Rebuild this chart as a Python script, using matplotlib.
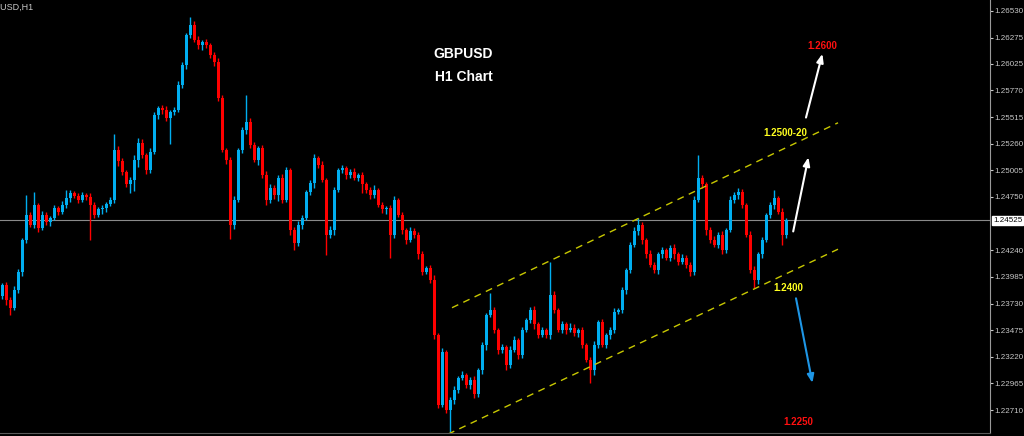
import matplotlib.pyplot as plt
import matplotlib.transforms as mtransforms

# ------------------------- Data ------------------------- #
symbol = "GBPUSD,H1"
first_open = 1.2380

closes = [
    1.2391, 1.2376, 1.2369, 1.2386, 1.2403, 1.2434, 1.2458, 1.2448, 1.2467, 1.2445,
    1.2458, 1.2451, 1.2455, 1.2464, 1.2461, 1.2467, 1.2474, 1.2479, 1.2476, 1.2472,
    1.2477, 1.2475, 1.2467, 1.2458, 1.2463, 1.2464, 1.2468, 1.2472, 1.2520, 1.2509,
    1.2499, 1.2487, 1.2491, 1.2510, 1.2527, 1.2515, 1.2501, 1.2518, 1.2553, 1.2560,
    1.2558, 1.2551, 1.2556, 1.2558, 1.2582, 1.2601, 1.2630, 1.2640, 1.2625, 1.2620,
    1.2623, 1.2620, 1.2611, 1.2604, 1.2570, 1.2520, 1.2510, 1.2448, 1.2472, 1.2520,
    1.2539, 1.2547, 1.2525, 1.2510, 1.2522, 1.2496, 1.2472, 1.2484, 1.2477, 1.2493,
    1.2472, 1.2501, 1.2443, 1.2431, 1.2448, 1.2455, 1.2480, 1.2488, 1.2512, 1.2506,
    1.2491, 1.2439, 1.2443, 1.2482, 1.2501, 1.2503, 1.2496, 1.2499, 1.2493, 1.2496,
    1.2487, 1.2482, 1.2477, 1.2482, 1.2467, 1.2463, 1.2464, 1.2439, 1.2472, 1.2458,
    1.2443, 1.2434, 1.2442, 1.2439, 1.2420, 1.2403, 1.2407, 1.2396, 1.2343, 1.2276,
    1.2327, 1.2271, 1.2281, 1.2290, 1.2302, 1.2305, 1.2295, 1.2300, 1.2286, 1.2309,
    1.2333, 1.2362, 1.2367, 1.2348, 1.2329, 1.2331, 1.2314, 1.2329, 1.2338, 1.2324,
    1.2348, 1.2357, 1.2367, 1.2353, 1.2343, 1.2348, 1.2343, 1.2381, 1.2367, 1.2348,
    1.2353, 1.2348, 1.2350, 1.2345, 1.2348, 1.2333, 1.2319, 1.2309, 1.2333, 1.2355,
    1.2333, 1.2343, 1.2348, 1.2365, 1.2367, 1.2386, 1.2405, 1.2429, 1.2442, 1.2448,
    1.2434, 1.2420, 1.2410, 1.2405, 1.2420, 1.2424, 1.2417, 1.2426, 1.2420, 1.2413,
    1.2417, 1.2410, 1.2403, 1.2472, 1.2493, 1.2487, 1.2443, 1.2434, 1.2429, 1.2439,
    1.2424, 1.2443, 1.2472, 1.2477, 1.2480, 1.2467, 1.2439, 1.2405, 1.2396, 1.2420,
    1.2434, 1.2458, 1.2467, 1.2474, 1.2461, 1.2439, 1.24525,
]

# wick lengths above / below the body, in pips
wick_up = [
    2, 3, 3, 4, 3, 2, 19, 3, 13, 2, 4, 3, 2, 3, 2, 4, 8, 3, 2, 3,
    3, 2, 4, 3, 2, 3, 2, 3, 15, 4, 3, 2, 3, 5, 4, 3, 2, 4, 3, 2,
    3, 4, 2, 3, 4, 3, 2, 7, 3, 4, 2, 3, 2, 3, 4, 3, 2, 3, 4, 2,
    3, 26, 4, 3, 2, 3, 4, 3, 2, 3, 4, 3, 2, 3, 4, 3, 2, 3, 4, 2,
    3, 2, 4, 3, 2, 3, 2, 3, 4, 2, 3, 2, 3, 4, 2, 3, 2, 3, 4, 2,
    3, 2, 4, 3, 2, 3, 2, 3, 4, 2, 3, 2, 3, 4, 2, 3, 2, 3, 4, 2,
    3, 2, 16, 3, 2, 3, 2, 3, 4, 2, 3, 2, 3, 4, 2, 3, 2, 32, 4, 2,
    3, 2, 4, 3, 2, 3, 2, 3, 4, 2, 3, 2, 3, 4, 2, 3, 2, 3, 4, 7,
    3, 2, 4, 3, 2, 3, 2, 3, 4, 2, 3, 2, 3, 4, 22, 3, 2, 3, 4, 2,
    3, 2, 4, 3, 4, 3, 2, 3, 4, 2, 3, 2, 3, 8, 2, 3, 2,
]
wick_dn = [
    3, 4, 7, 2, 3, 4, 3, 2, 3, 4, 2, 3, 4, 2, 3, 2, 3, 4, 2, 3,
    2, 3, 33, 3, 2, 4, 3, 2, 3, 4, 3, 2, 8, 10, 6, 3, 4, 3, 2, 3,
    4, 3, 25, 3, 2, 3, 4, 3, 2, 3, 4, 2, 3, 4, 3, 2, 3, 13, 4, 2,
    3, 4, 3, 2, 4, 3, 5, 3, 4, 6, 3, 2, 4, 7, 3, 4, 2, 3, 4, 3,
    2, 20, 3, 4, 2, 3, 4, 3, 2, 3, 8, 3, 4, 3, 2, 3, 4, 22, 3, 2,
    3, 4, 2, 3, 4, 3, 2, 3, 4, 3, 2, 3, 21, 4, 3, 2, 3, 4, 3, 2,
    3, 4, 2, 3, 4, 3, 5, 3, 2, 4, 3, 2, 3, 4, 3, 2, 3, 4, 3, 2,
    3, 4, 2, 3, 4, 3, 2, 12, 4, 3, 2, 3, 4, 3, 2, 3, 4, 3, 2, 3,
    4, 3, 2, 3, 4, 3, 2, 3, 4, 3, 2, 3, 4, 3, 2, 3, 4, 3, 2, 3,
    4, 3, 2, 3, 4, 3, 2, 3, 8, 4, 3, 2, 3, 4, 2, 10, 3,
]

price_ticks = [1.26530, 1.26275, 1.26025, 1.25770, 1.25515, 1.25260, 1.25005,
               1.24750, 1.24240, 1.23985, 1.23730, 1.23475, 1.23220,
               1.22965, 1.22710]

# channel: (bar index, price) pairs
channel_upper = [(112.5, 1.2369), (209.0, 1.2546)]
channel_lower = [(111.5, 1.2248), (209.0, 1.2425)]

levels = ["1.2600", "1.2500-20", "1.2400", "1.2250"]

# ------------------------- Candles ------------------------- #
PIP = 0.0001
BULL = "#00aef0"
BEAR = "#ff0000"

opens = [first_open] + closes[:-1]
highs = [max(o, c) + u * PIP for o, c, u in zip(opens, closes, wick_up)]
lows = [min(o, c) - d * PIP for o, c, d in zip(opens, closes, wick_dn)]
colors = [BULL if c >= o else BEAR for o, c in zip(opens, closes)]
xs = list(range(len(closes)))

fig = plt.figure(figsize=(10.24, 4.36), dpi=100, facecolor="black")
ax = fig.add_axes([0, 3 / 436, 990 / 1024, 433 / 436], facecolor="black")

ax.vlines(xs, lows, highs, colors=colors, lw=1, zorder=3)
body_h = [max(abs(c - o), 0.00004) for o, c in zip(opens, closes)]
body_b = [min(o, c) for o, c in zip(opens, closes)]
ax.bar(xs, body_h, bottom=body_b, width=0.75, color=colors, lw=0, zorder=4)

# current price line
last = closes[-1]
ax.axhline(last, color="#8a8a8a", lw=0.8, zorder=2)

# channel lines
for line in (channel_upper, channel_lower):
    ax.plot([p[0] for p in line], [p[1] for p in line], color="#c8c800",
            lw=1, dashes=(5, 4), zorder=5)

# ------------------------- Annotations ------------------------- #
ax.text(115.3, 1.2612, "GBPUSD", color="white", fontsize=10, fontweight="bold",
        family="Liberation Sans", ha="center", va="center")
ax.text(115.5, 1.2590, "H1 Chart", color="white", fontsize=10, fontweight="bold",
        family="Liberation Sans", ha="center", va="center")

lab_kw = dict(fontsize=7, fontweight="bold", family="Liberation Sans",
              ha="center", va="center", zorder=6)
ax.text(205.0, 1.26195, levels[0], color="#ff1010", **lab_kw)
ax.text(195.8, 1.25362, levels[1], color="#ffff20", **lab_kw)
ax.text(196.5, 1.23879, levels[2], color="#ffff20", **lab_kw)
ax.text(199.0, 1.22597, levels[3], color="#ff1010", **lab_kw)

arrow_kw = dict(arrowstyle="-|>,head_length=0.5,head_width=0.2", lw=1.5,
                shrinkA=0, shrinkB=0)
ax.annotate("", xy=(201.6, 1.2513), xytext=(197.8, 1.2442),
            arrowprops=dict(color="white", **arrow_kw), zorder=6)
ax.annotate("", xy=(205.1, 1.2612), xytext=(201.0, 1.2551),
            arrowprops=dict(color="white", **arrow_kw), zorder=6)
ax.annotate("", xy=(202.6, 1.2297), xytext=(198.5, 1.2378),
            arrowprops=dict(color="#1e96e6", **arrow_kw), zorder=6)

# ------------------------- Axes ------------------------- #
ax.set_xlim(-0.5, 247)
ax.set_ylim(1.22491, 1.26635)
ax.yaxis.tick_right()
ax.set_yticks(price_ticks)
ax.set_yticklabels([f"{t:.5f}" for t in price_ticks])
ax.tick_params(axis="y", colors="#c8c8c8", labelsize=5.8, length=2, width=0.8,
               pad=1)
for lbl in ax.get_yticklabels():
    lbl.set_family("Liberation Sans")
ax.set_xticks([])
for side in ("left", "top"):
    ax.spines[side].set_visible(False)
ax.spines["right"].set_color("#9a9a9a")
ax.spines["bottom"].set_color("#5a5a5a")

trans = mtransforms.blended_transform_factory(ax.transAxes, ax.transData)
ax.text(1.003, last, f"{last:.5f}", transform=trans, color="black", fontsize=5.8,
        family="Liberation Sans", ha="left", va="center", zorder=10,
        clip_on=False,
        bbox=dict(boxstyle="square,pad=0.15", fc="white", ec="white"))

fig.text(-0.018, 0.993, symbol, color="#c8c8c8", fontsize=6.5,
         family="Liberation Sans", ha="left", va="top")

fig.savefig("out.png", dpi=100, facecolor="black")
